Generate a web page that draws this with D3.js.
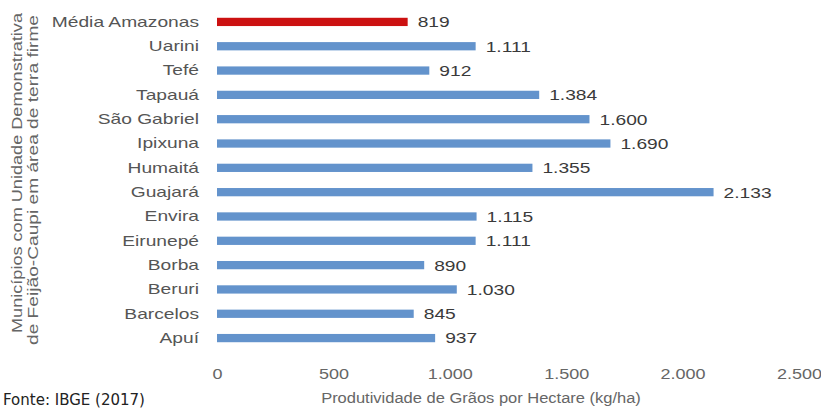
<!DOCTYPE html>
<html>
<head>
<meta charset="utf-8">
<script src="https://cdn.jsdelivr.net/npm/d3@7"></script>
<style>
  html, body { margin: 0; padding: 0; background: #fff; }
  svg { display: block; }
</style>
</head>
<body>
<svg id="chart" width="821" height="408"></svg>
<script>
// Municípios (top to bottom) and grain productivity (kg/ha)
const categories = ["Média Amazonas", "Uarini", "Tefé", "Tapauá", "São Gabriel", "Ipixuna",
  "Humaitá", "Guajará", "Envira", "Eirunepé", "Borba", "Beruri", "Barcelos", "Apuí"];
const values = [819, 1111, 912, 1384, 1600, 1690, 1355, 2133, 1115, 1111, 890, 1030, 845, 937];
const tickValues = [0, 500, 1000, 1500, 2000, 2500];
const tickLabels = ["0", "500", "1.000", "1.500", "2.000", "2.500"];
const yTitleLines = ["Municípios com Unidade Demonstrativa", "de Feijão-Caupi em área de terra firme"];

const fmt = v => d3.format(",")(v).replace(/,/g, ".");

const svg = d3.select("#chart");
const font = "'Liberation Sans', Arial, sans-serif";

const x = d3.scaleLinear().domain([0, 2500]).range([217, 799]);
const y = d3.scaleBand().domain(categories).range([10, 350]).paddingInner(0.66).paddingOuter(0.32);

// Wide-set lettering: horizontal stretch around each text's own anchor
const wide = (px, py, s) => `translate(${px},${py}) scale(${s},1)`;

// Bars
svg.append("g").selectAll("rect")
  .data(categories)
  .join("rect")
  .attr("x", x(0))
  .attr("y", d => y(d))
  .attr("width", (d, i) => x(values[i]) - x(0))
  .attr("height", y.bandwidth())
  .attr("fill", (d, i) => i === 0 ? "#cc1111" : "#6393cc");

// Value labels
svg.append("g").selectAll("text")
  .data(categories)
  .join("text")
  .attr("transform", (d, i) => wide(x(values[i]) + 10, y(d) + y.bandwidth() / 2, 1.28))
  .attr("dy", "0.36em")
  .attr("font-family", font)
  .attr("font-size", 15)
  .attr("fill", "#3a3a3a")
  .text((d, i) => fmt(values[i]));

// Category axis
const yAxis = svg.append("g")
  .attr("transform", `translate(${x(0)},0)`)
  .call(d3.axisLeft(y).tickSize(0).tickPadding(18));
yAxis.select(".domain").remove();
yAxis.selectAll("text")
  .attr("x", 0)
  .attr("transform", wide(-18, 0, 1.28))
  .attr("font-family", font)
  .attr("font-size", 15)
  .attr("fill", "#555");

// Value axis
const xAxis = svg.append("g")
  .attr("transform", "translate(0,368)")
  .call(d3.axisBottom(x).tickValues(tickValues).tickSize(0).tickPadding(0)
    .tickFormat((d, i) => tickLabels[i]));
xAxis.select(".domain").remove();
xAxis.selectAll("text")
  .attr("y", 0)
  .attr("transform", "scale(1.2,1)")
  .attr("font-family", font)
  .attr("font-size", 15)
  .attr("fill", "#666");

// Axis titles
svg.append("text")
  .attr("transform", wide(481, 403, 1.1))
  .attr("text-anchor", "middle")
  .attr("font-family", font)
  .attr("font-size", 15)
  .attr("fill", "#666")
  .text("Produtividade de Grãos por Hectare (kg/ha)");

// Rotated category-axis title, two lines
const titleCenters = [173, 180];
const titleLengths = [320, 330];
const titleBaselines = [22, 38];
svg.append("g").selectAll("text")
  .data(yTitleLines)
  .join("text")
  .attr("transform", (d, i) => `translate(${titleBaselines[i]},${titleCenters[i]}) rotate(-90)`)
  .attr("text-anchor", "middle")
  .attr("textLength", (d, i) => titleLengths[i])
  .attr("lengthAdjust", "spacingAndGlyphs")
  .attr("font-family", font)
  .attr("font-size", 15)
  .attr("fill", "#666")
  .text(d => d);

// Source note
svg.append("text")
  .attr("x", 3)
  .attr("y", 405)
  .attr("font-family", "'DejaVu Sans', Verdana, sans-serif")
  .attr("font-size", 15)
  .attr("fill", "#222")
  .text("Fonte: IBGE (2017)");
</script>
</body>
</html>
